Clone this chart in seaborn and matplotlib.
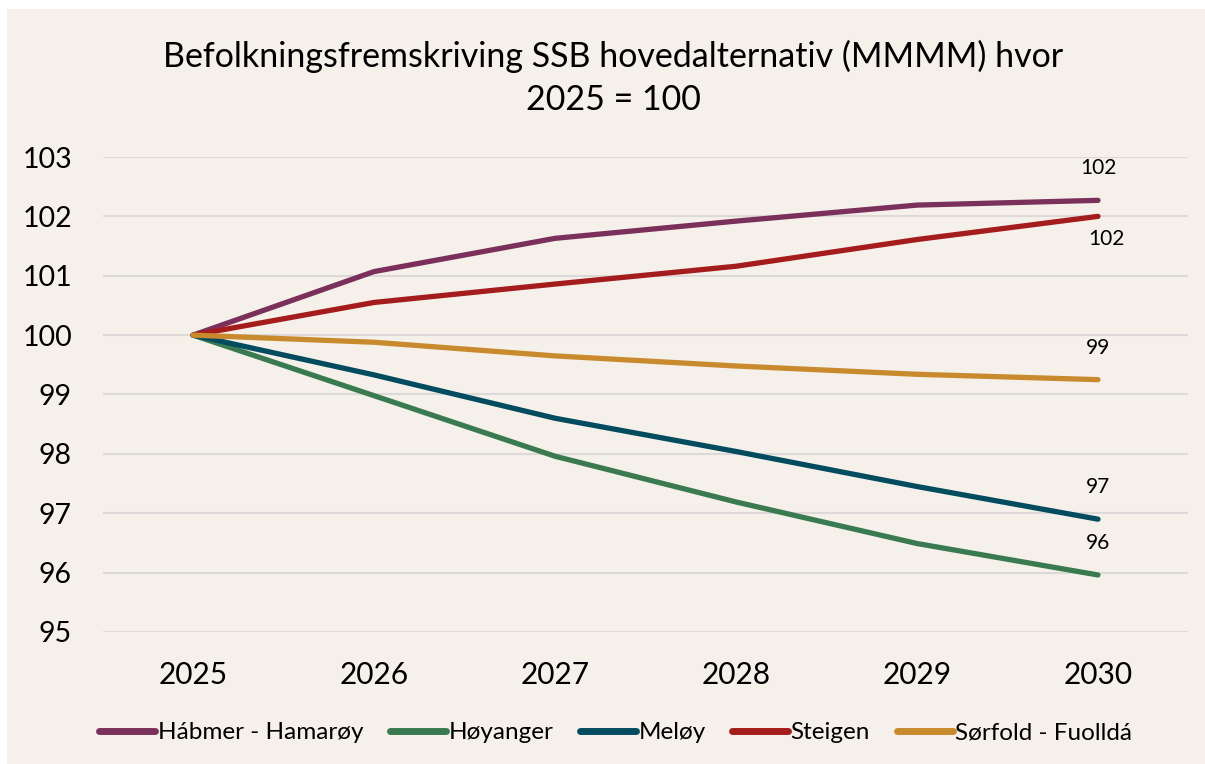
import matplotlib
matplotlib.use("Agg")
import matplotlib.pyplot as plt
import seaborn as sns
import pandas as pd
from matplotlib.patches import Rectangle

years = ["2025", "2026", "2027", "2028", "2029", "2030"]
habmer = [100.0, 101.07, 101.63, 101.92, 102.19, 102.27]
hoyanger = [100.0, 98.98, 97.96, 97.19, 96.49, 95.96]
meloy = [100.0, 99.33, 98.60, 98.04, 97.45, 96.90]
steigen = [100.0, 100.55, 100.86, 101.16, 101.61, 102.0]
sorfold = [100.0, 99.88, 99.65, 99.48, 99.34, 99.25]

series_names = ["Hábmer - Hamarøy", "Høyanger", "Meløy", "Steigen", "Sørfold - Fuolldá"]
series_values = [habmer, hoyanger, meloy, steigen, sorfold]
colors = ["#7B2F5B", "#3A7A50", "#034B5E", "#A51C1C", "#C88A2D"]
yticks = [95, 96, 97, 98, 99, 100, 101, 102, 103]
title = "Befolkningsfremskriving SSB hovedalternativ (MMMM) hvor\n2025 = 100"

rows = []
for name, vals in zip(series_names, series_values):
    for i, (yr, v) in enumerate(zip(years, vals)):
        rows.append({"idx": i, "year": yr, "value": v, "series": name})
df = pd.DataFrame(rows)

plt.rcParams["font.family"] = ["Lato", "DejaVu Sans"]
BG = "#F5F0EA"

fig = plt.figure(figsize=(12.05, 7.64), dpi=100, facecolor="white")
fig.patches.append(Rectangle((7 / 1205, 0), 1 - 7 / 1205, 1 - 9 / 764,
                             transform=fig.transFigure, facecolor=BG,
                             edgecolor="none", zorder=-10))
ax = fig.add_axes([0.0851, 0.1728, 0.9012, 0.6217])
ax.set_facecolor(BG)

sns.lineplot(data=df, x="idx", y="value", hue="series", palette=colors,
             hue_order=series_names, linewidth=3.8, ax=ax,
             solid_capstyle="round", solid_joinstyle="round", zorder=3)

ax.set_xlim(-0.5, len(years) - 0.5)
ax.set_ylim(95, 103)
ax.set_xticks(range(len(years)))
ax.set_xticklabels(years)
ax.set_yticks(yticks)
ax.set_yticklabels([str(t) for t in yticks])
ax.tick_params(axis="both", length=0, colors="#000000")
ax.tick_params(axis="y", pad=22, labelsize=20.5)
ax.tick_params(axis="x", pad=21, labelsize=21.5)
ax.set_xlabel("")
ax.set_ylabel("")
ax.grid(axis="y", color="#DDD9D9", linewidth=1.5, zorder=0)
ax.grid(axis="x", visible=False)
for s in ax.spines.values():
    s.set_visible(False)

# end labels
offsets = [(0, 23), (0, 23), (0, 23), (6, -16), (0, 23)]
last = len(years) - 1
for vals, off in zip(series_values, offsets):
    ax.annotate(f"{vals[-1]:.0f}", xy=(last, vals[-1]), xytext=off,
                textcoords="offset points", ha="center", va="center",
                fontsize=15, color="#000000")

fig.text(0.509, 0.898, title, ha="center", va="center", fontsize=24.5,
         linespacing=1.4, color="#000000")

handles, labels = ax.get_legend_handles_labels()
ax.legend(handles, labels, loc="center", bbox_to_anchor=(0.511, 0.0406),
          bbox_transform=fig.transFigure, ncol=5, frameon=False,
          fontsize=17.5, handlelength=2.3, handletextpad=0.1,
          columnspacing=1.1)
for line in ax.get_legend().get_lines():
    line.set_linewidth(5)
    line.set_solid_capstyle("round")

fig.savefig("out.png", dpi=100, facecolor="white")
